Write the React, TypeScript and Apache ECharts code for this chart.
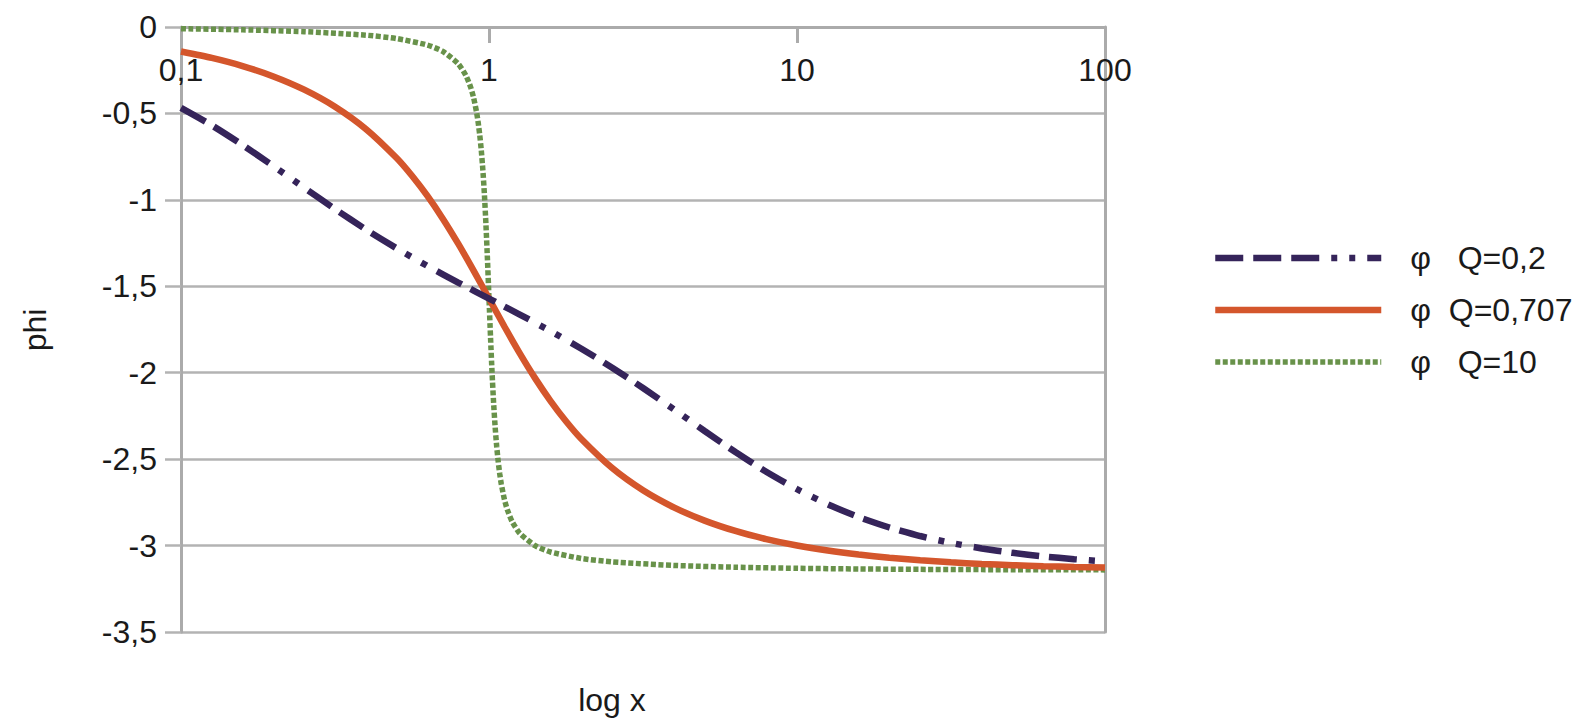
import React, { useEffect, useRef } from "react";
import * as echarts from "echarts";

// Phase curves (x on log scale, phi in radians)
const xQ02 = [0.1, 0.1259, 0.1585, 0.1995, 0.2512, 0.3162, 0.3981, 0.5012, 0.631, 0.7943, 1, 1.2589, 1.5849, 1.9953, 2.5119, 3.1623, 3.9811, 5.0119, 6.3096, 7.9433, 10, 12.589, 15.849, 19.953, 25.119, 31.623, 39.811, 50.119, 63.096, 79.433, 100];
const phiQ02 = [-0.4675, -0.5689, -0.6826, -0.8045, -0.9299, -1.0534, -1.1708, -1.2804, -1.3823, -1.4782, -1.5708, -1.6634, -1.7593, -1.8612, -1.9708, -2.0882, -2.2117, -2.3371, -2.459, -2.5727, -2.6741, -2.7614, -2.8349, -2.8954, -2.9448, -2.9846, -3.0166, -3.0421, -3.0625, -3.0787, -3.0916];

const xQ0707 = [0.1, 0.1259, 0.1585, 0.1995, 0.2512, 0.3162, 0.3981, 0.5012, 0.5623, 0.631, 0.7079, 0.7943, 0.8913, 1, 1.122, 1.2589, 1.4125, 1.5849, 1.7783, 1.9953, 2.5119, 3.1623, 3.9811, 5.0119, 6.3096, 7.9433, 10, 12.589, 15.849, 19.953, 25.119, 31.623, 39.811, 50.119, 63.096, 79.433, 100];
const phiQ0707 = [-0.1419, -0.179, -0.226, -0.2859, -0.3625, -0.4612, -0.5897, -0.758, -0.8607, -0.9775, -1.1088, -1.2535, -1.4091, -1.5708, -1.7325, -1.8881, -2.0328, -2.1641, -2.2809, -2.3836, -2.5519, -2.6804, -2.7791, -2.8557, -2.9156, -2.9626, -2.9997, -3.029, -3.0522, -3.0707, -3.0853, -3.0969, -3.1061, -3.1134, -3.1192, -3.1238, -3.1275];

const xQ10 = [0.1, 0.1585, 0.2512, 0.3981, 0.5012, 0.631, 0.7079, 0.7943, 0.8414, 0.871, 0.8913, 0.912, 0.9226, 0.9333, 0.9441, 0.955, 0.9661, 0.9772, 0.9886, 1, 1.0116, 1.0233, 1.0351, 1.0471, 1.0593, 1.0715, 1.0839, 1.0965, 1.122, 1.1482, 1.1885, 1.2589, 1.4125, 1.5849, 1.9953, 2.5119, 3.9811, 6.3096, 10, 15.849, 25.119, 39.811, 100];
const phiQ10 = [-0.0101, -0.0163, -0.0268, -0.0473, -0.0668, -0.1044, -0.141, -0.212, -0.2806, -0.3463, -0.4089, -0.4967, -0.5549, -0.6263, -0.7149, -0.8263, -0.9662, -1.1391, -1.3445, -1.5708, -1.7971, -2.0025, -2.1754, -2.3153, -2.4267, -2.5153, -2.5867, -2.6449, -2.7327, -2.7953, -2.861, -2.9296, -3.0006, -3.0372, -3.0748, -3.0943, -3.1148, -3.1253, -3.1315, -3.1353, -3.1376, -3.1391, -3.1406];

const seriesNames = ["φ   Q=0,2", "φ  Q=0,707", "φ   Q=10"];
const xTitle = "log x";
const yTitle = "phi";

const FONT = "'Liberation Sans', Arial, sans-serif";
const AXIS_GRAY = "#ababab";
const GRID_GRAY = "#b3b3b3";

const zip = (xs: number[], ys: number[]) => xs.map((x, i) => [x, ys[i]]);
const fmt = (v: number) => String(Number(Number(v).toPrecision(6))).replace(".", ",");

export default function App() {
  const ref = useRef<HTMLDivElement>(null);
  useEffect(() => {
    if (!ref.current) return;
    const chart = echarts.init(ref.current, null, { renderer: "svg" });
    chart.setOption({
      animation: false,
      backgroundColor: "#ffffff",
      textStyle: { fontFamily: FONT },
      grid: { left: 181, right: 478, top: 27, bottom: 89, containLabel: false },
      legend: {
        orient: "vertical",
        left: 1207,
        top: 233,
        itemWidth: 166,
        itemHeight: 14,
        itemGap: 12,
        data: seriesNames,
        itemStyle: { opacity: 0 },
        lineStyle: { width: "inherit", type: "inherit", color: "inherit" },
        textStyle: { fontSize: 32, color: "#1a1a1a", lineHeight: 40, padding: [0, 0, 0, 24], fontFamily: FONT },
      },
      xAxis: {
        type: "log",
        logBase: 10,
        min: 0.1,
        max: 100,
        position: "top",
        axisLine: { show: true, lineStyle: { color: AXIS_GRAY, width: 3 } },
        axisTick: { show: true, inside: true, length: 16, lineStyle: { color: AXIS_GRAY, width: 3 } },
        axisLabel: { inside: true, margin: 27, fontSize: 32, color: "#1a1a1a", formatter: fmt, fontFamily: FONT },
        splitLine: { show: false },
        minorTick: { show: false },
      },
      yAxis: [
        {
          type: "value",
          min: -3.5,
          max: 0,
          interval: 0.5,
          axisLine: { show: true, lineStyle: { color: AXIS_GRAY, width: 3 } },
          axisTick: { show: true, length: 16, lineStyle: { color: GRID_GRAY, width: 2.5 } },
          axisLabel: { margin: 24, fontSize: 32, color: "#1a1a1a", formatter: fmt, fontFamily: FONT },
          splitLine: { show: true, lineStyle: { color: GRID_GRAY, width: 2.5 } },
        },
        {
          type: "value",
          position: "right",
          min: -3.5,
          max: 0,
          interval: 0.5,
          axisLine: { show: true, lineStyle: { color: AXIS_GRAY, width: 3 } },
          axisTick: { show: false },
          axisLabel: { show: false },
          splitLine: { show: false },
        },
      ],
      graphic: [
        {
          type: "text",
          x: 35,
          y: 330,
          rotation: Math.PI / 2,
          style: { text: yTitle, fontSize: 32, fill: "#1a1a1a", align: "center", verticalAlign: "middle", fontFamily: FONT },
        },
        {
          type: "text",
          x: 612,
          y: 700,
          style: { text: xTitle, fontSize: 32, fill: "#1a1a1a", align: "center", verticalAlign: "middle", fontFamily: FONT },
        },
      ],
      series: [
        {
          name: seriesNames[0],
          type: "line",
          data: zip(xQ02, phiQ02),
          showSymbol: false,
          symbol: "none",
          smooth: 0.2,
          z: 5,
          lineStyle: { color: "#35245a", width: 6.5, type: [28, 10, 28, 10, 28, 12, 6, 12, 6, 12], cap: "butt" },
          itemStyle: { color: "#35245a" },
        },
        {
          name: seriesNames[1],
          type: "line",
          data: zip(xQ0707, phiQ0707),
          showSymbol: false,
          symbol: "none",
          smooth: 0.2,
          z: 4,
          lineStyle: { color: "#d4562c", width: 6.5, type: "solid" },
          itemStyle: { color: "#d4562c" },
        },
        {
          name: seriesNames[2],
          type: "line",
          data: zip(xQ10, phiQ10),
          showSymbol: false,
          symbol: "none",
          smooth: 0.2,
          z: 3,
          lineStyle: { color: "#68924a", width: 5.5, type: [5, 2.5], cap: "butt" },
          itemStyle: { color: "#68924a" },
        },
      ],
    });
    return () => chart.dispose();
  }, []);
  return <div ref={ref} style={{ position: "fixed", left: 0, top: 0, width: 1583, height: 721, background: "#fff" }} />;
}
